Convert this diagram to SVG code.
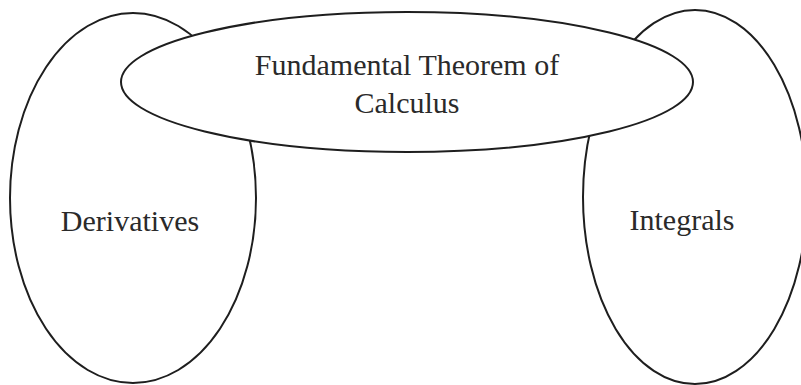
<svg xmlns="http://www.w3.org/2000/svg" width="801" height="385" viewBox="0 0 801 385">
  <style>
    .shape { fill: #ffffff; stroke: #1e1e1e; stroke-width: 2; }
    .label { font-family: "Liberation Serif", "Times New Roman", serif; font-size: 30px; fill: #2a2a2a; text-anchor: middle; }
  </style>
  <rect x="0" y="0" width="801" height="385" fill="#ffffff"/>
  <g id="connectors"></g>
  <g id="derivatives">
    <ellipse class="shape" cx="133" cy="198" rx="123" ry="185"/>
    <text class="label" x="130" y="231">Derivatives</text>
  </g>
  <g id="integrals">
    <ellipse class="shape" cx="695" cy="197" rx="112" ry="187"/>
    <text class="label" x="682" y="230">Integrals</text>
  </g>
  <g id="ftc">
    <ellipse class="shape" cx="407" cy="82" rx="286" ry="70"/>
    <text class="label" x="407" y="75">Fundamental Theorem of</text>
    <text class="label" x="407" y="113">Calculus</text>
  </g>
</svg>
